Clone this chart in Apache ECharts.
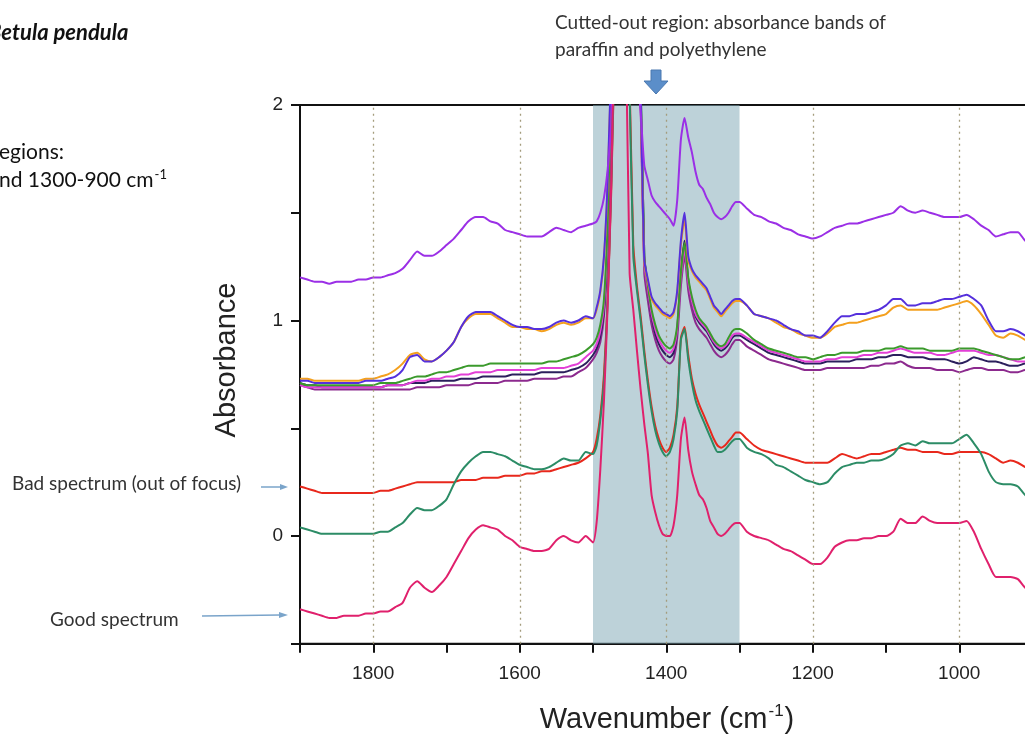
<!DOCTYPE html>
<html>
<head>
<meta charset="utf-8">
<title>Betula pendula spectra</title>
<script src="https://cdn.jsdelivr.net/npm/echarts@6/dist/echarts.min.js"></script>
<style>
  html, body { margin: 0; padding: 0; background: #ffffff; }
  #chart { width: 1025px; height: 736px; }
</style>
</head>
<body>
<div id="chart"></div>
<script>
// Sampling positions (cm^-1), denser across the paraffin / polyethylene bands
const wavenumbers = [
  1900,1890,1880,1870,1860,1850,1840,1830,1820,1810,
  1800,1790,1780,1770,1760,1750,1740,1730,1720,1710,
  1700,1690,1680,1670,1660,1650,1640,1630,1620,1610,
  1600,1590,1580,1570,1560,1550,1540,1530,1520,1510,
  1500,
  1495,1490,1485,1480,1475,1470,1465,1460,1455,1450,
  1445,1440,1435,1430,1425,1420,1415,1410,1405,1400,
  1395,1390,1385,1380,1375,1370,1365,1360,1355,1350,
  1345,1340,1335,1330,1325,1320,1315,1310,1305,
  1300,1290,1280,1270,1260,1250,1240,1230,1220,1210,
  1200,1190,1180,1170,1160,1150,1140,1130,1120,1110,
  1100,1090,1080,1070,1060,1050,1040,1030,1020,1010,
  1000,990,980,970,960,950,940,930,920,910,
  900
];

// Absorbance values, one array per spectrum
const specViolet = [
  1.20,1.19,1.18,1.18,1.17,1.18,1.18,1.18,1.19,1.19,
  1.20,1.20,1.21,1.22,1.24,1.28,1.32,1.30,1.30,1.32,
  1.35,1.38,1.42,1.46,1.48,1.48,1.46,1.45,1.42,1.41,
  1.40,1.39,1.39,1.39,1.41,1.43,1.42,1.41,1.43,1.44,
  1.45,
  1.46,1.50,1.57,1.70,1.93,2.40,2.60,2.60,2.60,2.60,
  2.50,2.15,1.97,1.72,1.65,1.58,1.55,1.53,1.51,1.49,
  1.47,1.44,1.56,1.84,1.94,1.85,1.78,1.69,1.63,1.61,
  1.57,1.54,1.50,1.48,1.47,1.48,1.50,1.53,1.55,
  1.55,1.52,1.49,1.48,1.46,1.45,1.43,1.42,1.40,1.39,
  1.38,1.39,1.41,1.43,1.44,1.45,1.45,1.46,1.47,1.48,
  1.49,1.50,1.53,1.51,1.50,1.51,1.50,1.49,1.48,1.48,
  1.48,1.49,1.47,1.44,1.42,1.39,1.40,1.41,1.41,1.37,
  1.36
];
const specBlue = [
  0.72,0.72,0.71,0.71,0.71,0.71,0.71,0.71,0.71,0.72,
  0.72,0.72,0.73,0.74,0.77,0.83,0.84,0.81,0.81,0.83,
  0.86,0.90,0.97,1.02,1.04,1.04,1.04,1.02,1.00,0.98,
  0.97,0.97,0.96,0.96,0.97,0.99,1.00,0.99,1.00,1.02,
  1.01,
  1.06,1.14,1.30,1.65,2.20,2.50,2.60,2.60,2.60,2.60,
  2.50,2.40,2.05,1.28,1.19,1.11,1.08,1.06,1.04,1.03,
  1.02,1.04,1.14,1.37,1.50,1.30,1.24,1.21,1.19,1.17,
  1.15,1.11,1.07,1.05,1.03,1.05,1.07,1.09,1.10,
  1.10,1.07,1.03,1.02,1.01,1.00,0.98,0.96,0.95,0.93,
  0.93,0.92,0.95,0.99,1.02,1.02,1.03,1.03,1.04,1.05,
  1.07,1.10,1.10,1.07,1.07,1.08,1.08,1.09,1.10,1.10,
  1.11,1.12,1.10,1.07,1.00,0.95,0.95,0.96,0.95,0.93,
  0.92
];
const specOrange = [
  0.73,0.73,0.72,0.72,0.72,0.72,0.72,0.72,0.72,0.73,
  0.73,0.74,0.75,0.77,0.80,0.84,0.85,0.82,0.81,0.83,
  0.86,0.90,0.97,1.01,1.03,1.03,1.03,1.01,0.99,0.97,
  0.97,0.96,0.96,0.95,0.96,0.98,0.99,0.98,0.99,1.01,
  1.01,
  1.05,1.13,1.29,1.63,2.18,2.50,2.60,2.60,2.60,2.60,
  2.50,2.40,2.03,1.27,1.18,1.10,1.07,1.05,1.03,1.02,
  1.01,1.03,1.13,1.35,1.47,1.28,1.23,1.20,1.18,1.16,
  1.14,1.10,1.06,1.04,1.02,1.04,1.06,1.08,1.09,
  1.09,1.07,1.03,1.02,1.01,0.99,0.97,0.96,0.94,0.93,
  0.92,0.92,0.94,0.97,0.98,0.99,0.99,1.00,1.01,1.02,
  1.03,1.06,1.07,1.05,1.05,1.05,1.05,1.05,1.06,1.07,
  1.08,1.09,1.07,1.03,0.98,0.93,0.92,0.94,0.93,0.91,
  0.90
];
const specGreen = [
  0.71,0.70,0.70,0.70,0.70,0.70,0.70,0.70,0.70,0.70,
  0.70,0.71,0.71,0.71,0.72,0.73,0.74,0.74,0.75,0.76,
  0.76,0.77,0.78,0.79,0.79,0.79,0.80,0.80,0.80,0.80,
  0.80,0.80,0.80,0.80,0.81,0.81,0.82,0.83,0.84,0.86,
  0.89,
  0.92,0.98,1.10,1.45,2.10,2.50,2.60,2.60,2.60,2.60,
  2.50,2.40,2.10,1.30,1.16,1.05,0.98,0.93,0.90,0.88,
  0.87,0.89,0.98,1.22,1.36,1.20,1.11,1.05,1.01,0.99,
  0.97,0.94,0.91,0.89,0.88,0.89,0.92,0.95,0.96,
  0.96,0.94,0.91,0.89,0.87,0.86,0.85,0.84,0.83,0.83,
  0.82,0.83,0.84,0.84,0.85,0.85,0.85,0.86,0.86,0.86,
  0.87,0.87,0.88,0.87,0.87,0.87,0.86,0.86,0.86,0.86,
  0.87,0.87,0.87,0.86,0.85,0.84,0.83,0.82,0.82,0.83,
  0.84
];
const specMagenta = [
  0.70,0.69,0.69,0.69,0.69,0.69,0.69,0.69,0.69,0.69,
  0.69,0.69,0.70,0.70,0.70,0.71,0.72,0.72,0.73,0.73,
  0.74,0.74,0.75,0.75,0.76,0.76,0.76,0.77,0.77,0.77,
  0.77,0.77,0.77,0.78,0.78,0.78,0.78,0.79,0.80,0.83,
  0.86,
  0.89,0.95,1.07,1.40,2.05,2.50,2.60,2.60,2.60,2.60,
  2.50,2.40,2.00,1.27,1.14,1.03,0.96,0.91,0.88,0.86,
  0.85,0.87,0.96,1.20,1.33,1.18,1.09,1.03,1.00,0.98,
  0.96,0.93,0.90,0.88,0.87,0.88,0.90,0.93,0.94,
  0.94,0.92,0.90,0.88,0.86,0.85,0.84,0.83,0.82,0.81,
  0.81,0.81,0.82,0.82,0.83,0.83,0.83,0.84,0.84,0.85,
  0.85,0.86,0.87,0.86,0.85,0.85,0.85,0.84,0.84,0.85,
  0.86,0.86,0.86,0.85,0.84,0.84,0.83,0.82,0.81,0.81,
  0.81
];
const specNavy = [
  0.71,0.70,0.70,0.69,0.69,0.69,0.69,0.69,0.69,0.69,
  0.69,0.69,0.70,0.70,0.70,0.71,0.71,0.71,0.72,0.72,
  0.72,0.72,0.73,0.73,0.73,0.74,0.74,0.74,0.74,0.75,
  0.75,0.75,0.75,0.76,0.76,0.76,0.76,0.77,0.78,0.80,
  0.84,
  0.87,0.93,1.05,1.38,2.00,2.50,2.60,2.60,2.60,2.60,
  2.50,2.40,2.10,1.30,1.14,1.02,0.94,0.89,0.86,0.84,
  0.83,0.85,0.96,1.22,1.37,1.19,1.09,1.02,0.99,0.97,
  0.95,0.92,0.89,0.87,0.86,0.87,0.89,0.92,0.93,
  0.93,0.91,0.89,0.87,0.85,0.84,0.83,0.82,0.81,0.80,
  0.80,0.80,0.81,0.81,0.81,0.81,0.82,0.82,0.82,0.83,
  0.83,0.84,0.84,0.83,0.83,0.83,0.82,0.82,0.82,0.81,
  0.80,0.81,0.83,0.82,0.81,0.81,0.80,0.79,0.79,0.80,
  0.80
];
const specPurple = [
  0.70,0.69,0.68,0.68,0.68,0.68,0.68,0.68,0.68,0.68,
  0.68,0.68,0.68,0.68,0.68,0.68,0.69,0.69,0.69,0.69,
  0.70,0.70,0.70,0.70,0.71,0.71,0.71,0.71,0.72,0.72,
  0.72,0.72,0.73,0.73,0.73,0.73,0.74,0.74,0.76,0.78,
  0.82,
  0.85,0.90,1.02,1.33,1.95,2.50,2.60,2.60,2.60,2.60,
  2.50,2.40,2.00,1.22,1.09,0.98,0.91,0.86,0.83,0.81,
  0.80,0.82,0.92,1.16,1.30,1.14,1.05,0.99,0.96,0.94,
  0.92,0.89,0.86,0.84,0.83,0.84,0.86,0.89,0.91,
  0.91,0.88,0.86,0.84,0.82,0.81,0.80,0.79,0.78,0.77,
  0.77,0.77,0.78,0.78,0.78,0.78,0.78,0.78,0.79,0.79,
  0.80,0.80,0.81,0.79,0.78,0.78,0.78,0.77,0.77,0.77,
  0.76,0.77,0.78,0.78,0.77,0.77,0.77,0.76,0.76,0.77,
  0.77
];
// Out-of-focus measurement
const specBad = [
  0.23,0.22,0.21,0.20,0.20,0.20,0.20,0.20,0.20,0.20,
  0.20,0.21,0.21,0.22,0.23,0.24,0.25,0.25,0.25,0.25,
  0.25,0.25,0.26,0.26,0.26,0.27,0.27,0.27,0.28,0.28,
  0.28,0.29,0.29,0.30,0.30,0.31,0.32,0.33,0.34,0.36,
  0.39,
  0.45,0.56,0.75,1.10,1.61,2.30,2.50,2.50,2.50,2.10,
  1.35,1.16,1.02,0.86,0.72,0.60,0.51,0.45,0.41,0.39,
  0.41,0.47,0.60,0.92,0.97,0.84,0.73,0.66,0.61,0.57,
  0.53,0.49,0.45,0.42,0.41,0.42,0.44,0.46,0.48,
  0.48,0.45,0.42,0.40,0.39,0.38,0.37,0.36,0.35,0.34,
  0.34,0.34,0.34,0.36,0.38,0.37,0.36,0.37,0.38,0.38,
  0.39,0.40,0.41,0.40,0.40,0.39,0.39,0.39,0.38,0.38,
  0.39,0.39,0.39,0.39,0.38,0.36,0.34,0.35,0.34,0.32,
  0.31
];
const specTeal = [
  0.04,0.03,0.02,0.01,0.01,0.01,0.01,0.01,0.01,0.01,
  0.01,0.02,0.02,0.04,0.06,0.10,0.13,0.12,0.12,0.14,
  0.17,0.24,0.30,0.34,0.37,0.39,0.39,0.38,0.37,0.35,
  0.33,0.32,0.31,0.31,0.32,0.34,0.36,0.35,0.35,0.39,
  0.38,
  0.42,0.54,0.72,1.10,1.65,2.30,2.50,2.50,2.50,2.05,
  1.30,1.14,1.00,0.84,0.70,0.58,0.49,0.43,0.39,0.37,
  0.39,0.45,0.58,0.91,0.96,0.82,0.71,0.63,0.58,0.54,
  0.50,0.46,0.42,0.39,0.39,0.40,0.42,0.44,0.45,
  0.45,0.41,0.39,0.38,0.36,0.33,0.32,0.30,0.28,0.26,
  0.25,0.24,0.25,0.29,0.32,0.33,0.34,0.34,0.35,0.35,
  0.36,0.38,0.42,0.43,0.42,0.44,0.43,0.43,0.43,0.43,
  0.45,0.47,0.43,0.38,0.30,0.25,0.24,0.24,0.23,0.19,
  0.17
];
// Well-focused measurement
const specGood = [
  -0.34,-0.35,-0.36,-0.37,-0.38,-0.38,-0.37,-0.37,-0.37,-0.36,
  -0.36,-0.35,-0.35,-0.33,-0.31,-0.24,-0.21,-0.24,-0.26,-0.23,
  -0.19,-0.13,-0.07,-0.01,0.03,0.05,0.04,0.03,0.00,-0.02,
  -0.05,-0.06,-0.07,-0.07,-0.06,-0.02,0.00,-0.02,-0.03,0.00,
  -0.03,
  0.065,0.31,0.63,1.07,1.65,2.40,2.60,2.60,2.30,1.22,
  1.05,0.86,0.68,0.52,0.38,0.19,0.11,0.05,0.01,0.00,
  0.00,0.05,0.19,0.45,0.55,0.40,0.30,0.24,0.19,0.17,
  0.13,0.07,0.04,0.01,0.00,0.01,0.03,0.05,0.06,
  0.06,0.02,0.00,-0.01,-0.02,-0.04,-0.06,-0.07,-0.09,-0.11,
  -0.13,-0.13,-0.10,-0.05,-0.03,-0.02,-0.02,-0.01,-0.01,0.00,
  0.00,0.02,0.08,0.06,0.06,0.09,0.07,0.06,0.06,0.06,
  0.06,0.07,0.02,-0.06,-0.13,-0.19,-0.19,-0.19,-0.20,-0.24,
  -0.26
];

// Axis ticks, labelled values and guide positions
const xTickLabels = [1800, 1600, 1400, 1200, 1000];
const yTickLabels = [0, 1, 2];
const guideLines = [1800, 1600, 1400, 1200, 1000];
const cutOutRange = [1500, 1300];

// Drawing order: first entry at the bottom
const spectra = [
  { name: 'purple',  data: specPurple,  color: '#8c2a8e' },
  { name: 'navy',    data: specNavy,    color: '#2b1f5c' },
  { name: 'magenta', data: specMagenta, color: '#e23fd6' },
  { name: 'green',   data: specGreen,   color: '#3b9a2c' },
  { name: 'orange',  data: specOrange,  color: '#f4a01e' },
  { name: 'blue',    data: specBlue,    color: '#5530dc' },
  { name: 'violet',  data: specViolet,  color: '#9b2fe6' },
  { name: 'bad',     data: specBad,     color: '#e8281c' },
  { name: 'teal',    data: specTeal,    color: '#2c8c66' },
  { name: 'good',    data: specGood,    color: '#e0206c' }
];

const AXIS_FONT = '"Liberation Sans", Arial, sans-serif';
const NOTE_FONT = 'Lato, "Open Sans", sans-serif';

const lineSeries = spectra.map(s => ({
  name: s.name,
  type: 'line',
  data: wavenumbers.map((w, i) => [w, s.data[i]]),
  showSymbol: false,
  symbol: 'none',
  smooth: 0.2,
  clip: true,
  z: 2,
  lineStyle: { color: s.color, width: 2 },
  itemStyle: { color: s.color },
  silent: true
}));

// Dotted guides at every labelled wavenumber
const guideSeries = {
  type: 'line',
  data: [],
  z: 1,
  silent: true,
  markLine: {
    silent: true,
    symbol: 'none',
    label: { show: false },
    lineStyle: { color: '#a49c7c', type: [2, 4], width: 1.3 },
    data: guideLines.map(v => ({ xAxis: v }))
  }
};

// Shaded band that hides the embedding-medium peaks
const shadeSeries = {
  type: 'line',
  data: [],
  z: 3,
  silent: true,
  markArea: {
    silent: true,
    itemStyle: { color: 'rgba(128,168,182,0.52)' },
    data: [[{ xAxis: cutOutRange[0] }, { xAxis: cutOutRange[1] }]]
  }
};

const chart = echarts.init(document.getElementById('chart'), null, { renderer: 'canvas' });

chart.setOption({
  animation: false,
  backgroundColor: '#ffffff',
  grid: {
    left: 300, top: 105, width: 732.5, height: 538.75,
    outerBoundsMode: 'none',
    containLabel: false,
    show: true, borderColor: '#111111', borderWidth: 2, backgroundColor: 'transparent'
  },
  xAxis: {
    type: 'value',
    inverse: true,
    min: 900, max: 1900, interval: 100,
    axisLine: { show: true, onZero: false, lineStyle: { color: '#111111', width: 2 } },
    axisTick: { show: true, inside: false, length: 9, lineStyle: { color: '#111111', width: 2 } },
    axisLabel: {
      margin: 21,
      fontSize: 19,
      fontFamily: AXIS_FONT,
      color: '#222222',
      formatter: v => (xTickLabels.indexOf(v) >= 0 ? String(v) : '')
    },
    splitLine: { show: false }
  },
  yAxis: {
    type: 'value',
    min: -0.5, max: 2, interval: 0.5,
    axisLine: { show: true, onZero: false, lineStyle: { color: '#111111', width: 2 } },
    axisTick: { show: true, inside: false, length: 9, lineStyle: { color: '#111111', width: 2 } },
    axisLabel: {
      margin: 17,
      fontSize: 19,
      fontFamily: AXIS_FONT,
      color: '#222222',
      formatter: v => (yTickLabels.indexOf(v) >= 0 ? String(v) : '')
    },
    splitLine: { show: false }
  },
  series: [guideSeries].concat(lineSeries, [shadeSeries]),
  graphic: [
    // Species name (left part runs off the page)
    { type: 'text', x: -12, y: 33,
      style: { text: 'Betula pendula', fontSize: 22, fontStyle: 'italic', fontWeight: 'bold',
               fontFamily: NOTE_FONT, fill: '#111111', align: 'left', verticalAlign: 'middle' } },
    { type: 'text', x: -1, y: 152,
      style: { text: 'egions:', fontSize: 21, fontFamily: NOTE_FONT, fill: '#111111',
               align: 'left', verticalAlign: 'middle' } },
    { type: 'text', x: -1, y: 180,
      style: { text: '{a|nd 1300-900 cm}{s|-1}', align: 'left', verticalAlign: 'middle',
               rich: {
                 a: { fontSize: 21, fontFamily: NOTE_FONT, fill: '#111111', lineHeight: 24 },
                 s: { fontSize: 13, fontFamily: NOTE_FONT, fill: '#111111', lineHeight: 24, verticalAlign: 'top', padding: [0, 0, 10, 1] }
               } } },
    // Note about the cut-out band
    { type: 'text', x: 555, y: 23,
      style: { text: 'Cutted-out region: absorbance bands of', fontSize: 19, fontFamily: NOTE_FONT,
               fill: '#333333', align: 'left', verticalAlign: 'middle' } },
    { type: 'text', x: 555, y: 50,
      style: { text: 'paraffin and polyethylene', fontSize: 19, fontFamily: NOTE_FONT,
               fill: '#333333', align: 'left', verticalAlign: 'middle' } },
    { type: 'polygon',
      shape: { points: [[651, 70], [661, 70], [661, 81], [668, 81], [656, 94], [644, 81], [651, 81]] },
      style: { fill: '#5b8ec9', stroke: '#4a78b0', lineWidth: 1 } },
    // Spectrum quality notes
    { type: 'text', x: 12, y: 484,
      style: { text: 'Bad spectrum (out of focus)', fontSize: 19, fontFamily: NOTE_FONT,
               fill: '#333333', align: 'left', verticalAlign: 'middle' } },
    { type: 'line', shape: { x1: 261, y1: 487, x2: 281, y2: 487 },
      style: { stroke: '#7aa4ca', lineWidth: 1.5 } },
    { type: 'polygon', shape: { points: [[288, 487], [280, 484], [280, 490]] },
      style: { fill: '#7aa4ca' } },
    { type: 'text', x: 50, y: 620,
      style: { text: 'Good spectrum', fontSize: 19, fontFamily: NOTE_FONT,
               fill: '#333333', align: 'left', verticalAlign: 'middle' } },
    { type: 'line', shape: { x1: 202, y1: 616, x2: 280, y2: 615 },
      style: { stroke: '#7aa4ca', lineWidth: 1.5 } },
    { type: 'polygon', shape: { points: [[288, 615], [279, 612], [279, 618]] },
      style: { fill: '#7aa4ca' } },
    // Axis titles
    { type: 'text', x: 227, y: 360, rotation: Math.PI / 2,
      style: { text: 'Absorbance', fontSize: 29, fontFamily: AXIS_FONT, fill: '#222222',
               align: 'center', verticalAlign: 'middle' } },
    { type: 'text', x: 667, y: 720,
      style: { text: '{a|Wavenumber (cm}{s|-1}{a|)}', align: 'center', verticalAlign: 'middle',
               rich: {
                 a: { fontSize: 29, fontFamily: AXIS_FONT, fill: '#222222', lineHeight: 34 },
                 s: { fontSize: 17, fontFamily: AXIS_FONT, fill: '#222222', lineHeight: 34, verticalAlign: 'top', padding: [0, 1, 12, 1] }
               } } }
  ]
});
</script>
</body>
</html>
